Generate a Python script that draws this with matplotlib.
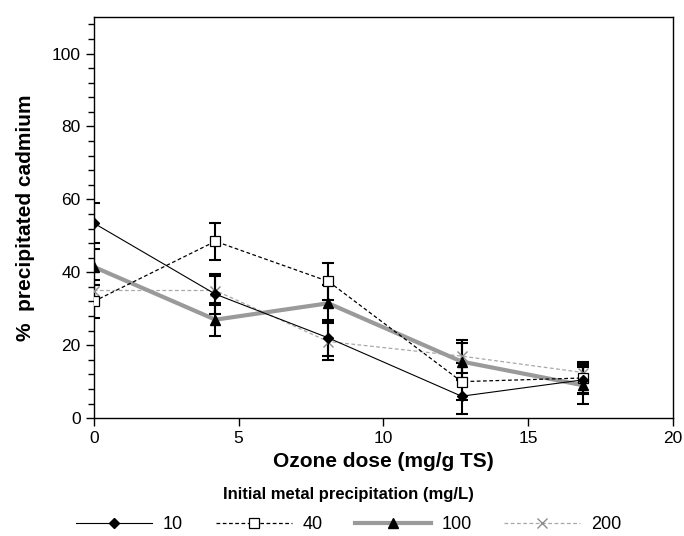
import numpy as np
import matplotlib.pyplot as plt
from matplotlib.ticker import MultipleLocator

plt.rcParams['font.family'] = ['Liberation Sans', 'DejaVu Sans']

# =============================================================================
# DATA
# =============================================================================
ozone = [0, 4.2, 8.1, 12.7, 16.9]

cd_10 = [53.5, 34.0, 22.0, 6.0, 10.5]
err_10 = [5.5, 5.5, 5.0, 5.0, 4.0]

cd_40 = [32.0, 48.5, 37.5, 10.0, 11.0]
err_40 = [4.5, 5.0, 5.0, 5.0, 4.0]

cd_100 = [41.5, 27.0, 31.5, 15.5, 9.0]
err_100 = [5.0, 4.5, 5.0, 5.0, 5.0]

cd_200 = [35.0, 35.0, 21.0, 17.0, 12.5]
err_200 = [3.0, 4.0, 5.0, 4.5, 3.0]

labels = ['10', '40', '100', '200']

# =============================================================================
# PLOT
# =============================================================================
fig = plt.figure(figsize=(6.84, 5.36), dpi=100)
ax = fig.add_axes([0.137, 0.22, 0.847, 0.748])

eb_kw = dict(ecolor='black', elinewidth=1.5, capsize=4, capthick=1.5, zorder=2)

ax.errorbar(ozone, cd_200, yerr=err_200, fmt='none', **eb_kw)
ax.errorbar(ozone, cd_100, yerr=err_100, fmt='none', **eb_kw)
ax.errorbar(ozone, cd_40, yerr=err_40, fmt='none', **eb_kw)
ax.errorbar(ozone, cd_10, yerr=err_10, fmt='none', **eb_kw)

l200, = ax.plot(ozone, cd_200, color='#a8a8a8', lw=0.9, ls=(0, (3, 2)),
                marker='x', ms=7, mec='#8c8c8c', mew=1.0, zorder=3, label=labels[3])
l100, = ax.plot(ozone, cd_100, color='#9a9a9a', lw=3.0, ls='-',
                marker='^', ms=7, mfc='black', mec='black', zorder=4, label=labels[2])
l40, = ax.plot(ozone, cd_40, color='black', lw=0.9, ls=(0, (3, 2)),
               marker='s', ms=7, mfc='white', mec='black', mew=0.9, zorder=5, label=labels[1])
l10, = ax.plot(ozone, cd_10, color='black', lw=0.8, ls='-',
               marker='D', ms=5.5, mfc='black', mec='black', zorder=6, label=labels[0])

ax.set_xlim(0, 20)
ax.set_ylim(0, 110)
ax.xaxis.set_major_locator(MultipleLocator(5))
ax.yaxis.set_major_locator(MultipleLocator(20))
ax.yaxis.set_minor_locator(MultipleLocator(4))
ax.tick_params(axis='both', which='major', direction='out', length=6, width=1,
               labelsize=12.5, top=False, right=False)
ax.tick_params(axis='y', which='minor', direction='out', length=4, width=1)
ax.set_yticks([0, 20, 40, 60, 80, 100])

for s in ax.spines.values():
    s.set_linewidth(1.0)

ax.set_xlabel('Ozone dose (mg/g TS)', fontsize=15, fontweight='bold', labelpad=4)
ax.set_ylabel('%  precipitated cadmium', fontsize=15, fontweight='bold', labelpad=12)

leg = fig.legend(handles=[l10, l40, l100, l200], loc='upper center',
                 bbox_to_anchor=(0.51, 1 - 487 / 536), ncol=4, frameon=False,
                 fontsize=13, handlelength=4.2, handletextpad=0.6,
                 columnspacing=1.8, borderaxespad=0.0, borderpad=0.0,
                 title='Initial metal precipitation (mg/L)',
                 title_fontproperties={'weight': 'bold', 'size': 12})
leg._legend_box.sep = 10

fig.savefig('out.png', dpi=100)
